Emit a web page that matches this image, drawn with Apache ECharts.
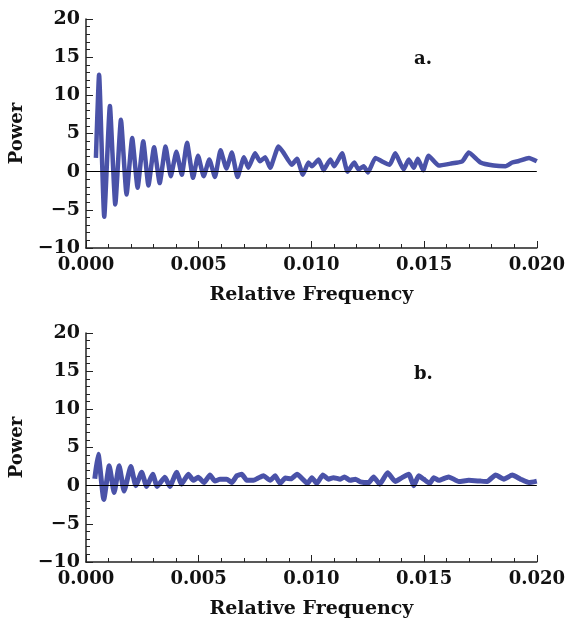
<!DOCTYPE html>
<html>
<head>
    <meta charset="utf-8">
    <title>Power spectrum</title>
    <script src="https://cdn.jsdelivr.net/npm/echarts@6/dist/echarts.min.js"></script>
</head>
<body style="margin:0">
<div id="main" style="width: 568px;height:620px;"></div>
<script type="text/javascript">
    // data
    const freqA = [0.00044, 0.00058, 0.00081, 0.00106, 0.0013, 0.00155, 0.0018, 0.00205, 0.00229, 0.00254,
        0.00277, 0.00302, 0.00327, 0.00353, 0.00376, 0.00401, 0.00425, 0.00448, 0.00475, 0.00497,
        0.00522, 0.00547, 0.00572, 0.00597, 0.00623, 0.00647, 0.00672, 0.00701, 0.0072, 0.0075,
        0.00772, 0.00795, 0.00817, 0.00854, 0.00876, 0.00913, 0.00936, 0.00962, 0.00987, 0.01002,
        0.01032, 0.01054, 0.01084, 0.01101, 0.01136, 0.0116, 0.0119, 0.01209, 0.01232, 0.01251,
        0.01284, 0.01313, 0.01347, 0.01372, 0.01409, 0.01432, 0.01454, 0.01472, 0.01496, 0.0152,
        0.01565, 0.01617, 0.01669, 0.01698, 0.0175, 0.01809, 0.01861, 0.01891, 0.0192, 0.01965, 0.02];
    const powerA = [1.8, 12.7, -5.9, 8.6, -4.3, 6.8, -3.0, 4.4, -2.1, 4.0,
        -1.8, 3.2, -1.5, 3.3, -0.6, 2.6, -0.4, 3.8, -0.8, 2.1,
        -0.6, 1.6, -0.7, 2.8, 0.4, 2.5, -0.7, 1.9, 0.5, 2.4,
        1.35, 1.9, 0.5, 3.3, 2.5, 0.9, 1.7, -0.4, 1.2, 0.7,
        1.6, 0.2, 1.6, 0.7, 2.4, 0.0, 1.2, 0.3, 0.7, -0.1,
        1.8, 1.35, 0.9, 2.4, 0.3, 1.6, 0.5, 1.7, 0.2, 2.1,
        0.8, 1.05, 1.35, 2.5, 1.2, 0.8, 0.7, 1.2, 1.4, 1.8, 1.35];

    const freqB = [0.00039, 0.00054, 0.00079, 0.00103, 0.00125, 0.00147, 0.00169, 0.00199, 0.00221, 0.00247,
        0.00269, 0.00296, 0.00316, 0.0035, 0.00372, 0.00402, 0.00424, 0.00454, 0.00476, 0.00498,
        0.00524, 0.0055, 0.00572, 0.00595, 0.00624, 0.00647, 0.00669, 0.00691, 0.00713, 0.00743,
        0.00764, 0.00787, 0.00817, 0.00839, 0.00861, 0.00884, 0.0091, 0.00936, 0.00983, 0.01002,
        0.01024, 0.01051, 0.01076, 0.01098, 0.01128, 0.01146, 0.01172, 0.01195, 0.01217, 0.01254,
        0.01276, 0.01303, 0.01338, 0.01372, 0.01402, 0.01432, 0.01454, 0.01476, 0.01498, 0.01525,
        0.01543, 0.01565, 0.01609, 0.01654, 0.01698, 0.0175, 0.0178, 0.01817, 0.01854, 0.01891,
        0.01928, 0.01965, 0.02];
    const powerB = [0.9, 4.1, -1.8, 2.6, -0.9, 2.6, -0.7, 2.5, 0.0, 1.75,
        -0.1, 1.5, -0.1, 1.1, -0.1, 1.75, 0.2, 1.5, 0.7, 1.1,
        0.4, 1.4, 0.6, 0.85, 0.85, 0.4, 1.3, 1.5, 0.7, 0.7,
        1.0, 1.3, 0.7, 1.3, 0.3, 1.0, 0.9, 1.5, 0.3, 1.05,
        0.3, 1.4, 0.85, 1.05, 0.85, 1.15, 0.7, 0.85, 0.5, 0.4,
        1.15, 0.2, 1.7, 0.55, 1.05, 1.5, 0.0, 1.3, 0.85, 0.3,
        1.05, 0.7, 1.15, 0.55, 0.7, 0.6, 0.55, 1.4, 0.85, 1.4,
        0.85, 0.4, 0.6];

    const xTicks = [0, 0.005, 0.01, 0.015, 0.02];
    const yTicks = [-10, -5, 0, 5, 10, 15, 20];
    const panelLabels = ['a.', 'b.'];

    const lineColor = '#4a52a8';
    const font = 'DejaVu Serif';

    function zip(xs, ys) {
        return xs.map(function (x, i) { return [x, ys[i]]; });
    }

    function xAxisFor(idx) {
        return {
            type: 'value', gridIndex: idx,
            min: xTicks[0], max: xTicks[xTicks.length - 1], interval: xTicks[1] - xTicks[0],
            name: 'Relative Frequency', nameLocation: 'middle', nameGap: 38,
            nameTextStyle: {fontFamily: font, fontWeight: 'bold', fontSize: 19, color: '#111'},
            axisLine: {onZero: false, lineStyle: {color: '#222', width: 1.5}},
            axisTick: {inside: true, length: 7, lineStyle: {color: '#222'}},
            minorTick: {show: true, splitNumber: 5, length: 4, lineStyle: {color: '#222'}},
            splitLine: {show: false},
            axisLabel: {
                fontFamily: font, fontWeight: 'bold', fontSize: 18, color: '#111', margin: 8,
                formatter: function (v) { return v.toFixed(3); }
            }
        };
    }

    function yAxisFor(idx) {
        return {
            type: 'value', gridIndex: idx,
            min: yTicks[0], max: yTicks[yTicks.length - 1], interval: yTicks[1] - yTicks[0],
            name: 'Power', nameLocation: 'middle', nameGap: 57,
            nameTextStyle: {fontFamily: font, fontWeight: 'bold', fontSize: 18, color: '#111'},
            axisLine: {show: true, lineStyle: {color: '#222', width: 1.5}},
            axisTick: {inside: true, length: 7, lineStyle: {color: '#222'}},
            minorTick: {show: true, splitNumber: 5, length: 4, lineStyle: {color: '#222'}},
            splitLine: {show: false},
            axisLabel: {
                fontFamily: font, fontWeight: 'bold', fontSize: 19, color: '#111', margin: 6,
                formatter: function (v) { return String(v).replace('-', '\u2212'); }
            }
        };
    }

    function seriesFor(idx, data, width) {
        return {
            type: 'line', xAxisIndex: idx, yAxisIndex: idx,
            data: data, showSymbol: false, smooth: 0.15,
            lineStyle: {color: lineColor, width: width},
            markLine: {
                silent: true, symbol: 'none', label: {show: false},
                lineStyle: {color: '#000', width: 1, type: 'solid'},
                data: [{yAxis: 0}]
            }
        };
    }

    let myChart = echarts.init(document.getElementById('main'));
    myChart.setOption({
        backgroundColor: '#fff',
        animation: false,
        grid: [
            {left: 86, right: 30, top: 19, height: 229},
            {left: 86, right: 30, top: 333, height: 229}
        ],
        xAxis: [xAxisFor(0), xAxisFor(1)],
        yAxis: [yAxisFor(0), yAxisFor(1)],
        graphic: [
            {type: 'text', left: 414, top: 50, style: {text: panelLabels[0], font: 'bold 18px "DejaVu Serif"', fill: '#111'}},
            {type: 'text', left: 414, top: 365, style: {text: panelLabels[1], font: 'bold 18px "DejaVu Serif"', fill: '#111'}}
        ],
        series: [
            seriesFor(0, zip(freqA, powerA), 4.5),
            seriesFor(1, zip(freqB, powerB), 5)
        ]
    });
</script>
</body>
</html>
